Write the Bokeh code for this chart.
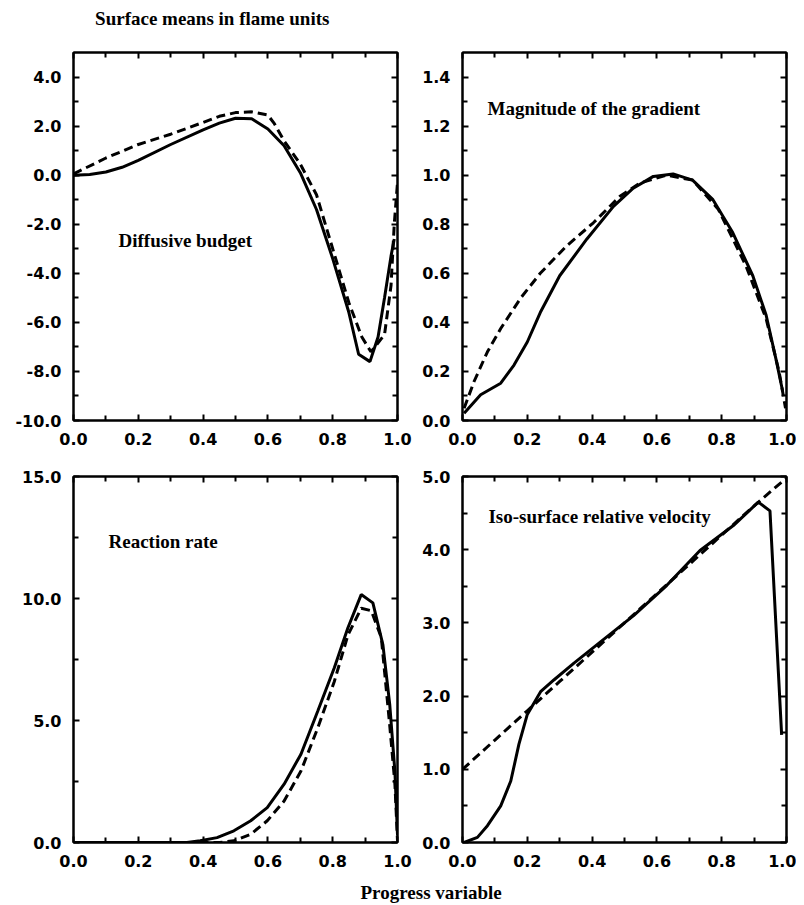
from bokeh.plotting import figure
from bokeh.models import Range1d, LinearAxis, FixedTicker, NumeralTickFormatter, Label
from bokeh.layouts import column, row
from bokeh.embed import file_html
from bokeh.resources import INLINE

# ---------------- data ----------------
x_ticks = [0.0, 0.2, 0.4, 0.6, 0.8, 1.0]
x_minor = [0.1, 0.3, 0.5, 0.7, 0.9]

# Diffusive budget
diff_x_solid = [0.0, 0.05, 0.1, 0.15, 0.2, 0.3, 0.4, 0.45, 0.5, 0.55, 0.6, 0.65, 0.7,
                0.75, 0.8, 0.85, 0.88, 0.915, 0.94, 0.96, 0.98, 0.99]
diff_y_solid = [0.0, 0.03, 0.13, 0.32, 0.6, 1.25, 1.85, 2.12, 2.32, 2.3, 1.88, 1.2, 0.1,
                -1.4, -3.4, -5.6, -7.3, -7.6, -6.6, -5.0, -3.3, -2.6]
diff_x_dash = [0.0, 0.1, 0.2, 0.3, 0.4, 0.45, 0.5, 0.55, 0.6, 0.62, 0.65, 0.7, 0.75, 0.8,
               0.85, 0.89, 0.918, 0.96, 0.98, 0.99, 1.0]
diff_y_dash = [0.05, 0.7, 1.25, 1.67, 2.15, 2.4, 2.55, 2.58, 2.45, 2.1, 1.4, 0.45, -0.8,
               -3.0, -5.2, -6.6, -7.2, -6.5, -4.5, -2.0, -0.3]
diff_y_ticks = [-10, -8, -6, -4, -2, 0, 2, 4]
diff_y_minor = [-9, -7, -5, -3, -1, 1, 3]

# Magnitude of the gradient
grad_x_solid = [0.005, 0.056, 0.118, 0.159, 0.2, 0.24, 0.3, 0.384, 0.466, 0.527, 0.589,
                0.65, 0.71, 0.773, 0.834, 0.896, 0.937, 0.967, 0.988]
grad_y_solid = [0.03, 0.105, 0.152, 0.226, 0.32, 0.44, 0.59, 0.74, 0.873, 0.947, 0.995,
                1.005, 0.98, 0.90, 0.766, 0.59, 0.43, 0.253, 0.12]
grad_x_dash = [0.005, 0.036, 0.077, 0.118, 0.18, 0.24, 0.32, 0.404, 0.486, 0.548, 0.63,
               0.71, 0.79, 0.875, 0.937, 0.977, 0.997]
grad_y_dash = [0.05, 0.16, 0.28, 0.375, 0.5, 0.60, 0.71, 0.806, 0.914, 0.968, 1.0,
               0.98, 0.86, 0.63, 0.415, 0.2, 0.05]
grad_y_ticks = [0.0, 0.2, 0.4, 0.6, 0.8, 1.0, 1.2, 1.4]
grad_y_minor = [0.1, 0.3, 0.5, 0.7, 0.9, 1.1, 1.3]

# Reaction rate
rate_x_solid = [0.0, 0.1, 0.2, 0.3, 0.35, 0.391, 0.443, 0.495, 0.547, 0.598, 0.65, 0.702,
                0.754, 0.805, 0.847, 0.888, 0.924, 0.955, 0.976, 0.992, 1.0]
rate_y_solid = [0.0, 0.0, 0.0, 0.0, 0.0, 0.07, 0.2, 0.48, 0.89, 1.43, 2.39, 3.62,
                5.39, 7.16, 8.8, 10.16, 9.82, 8.1, 5.66, 2.9, 0.3]
rate_x_dash = [0.0, 0.2, 0.4, 0.45, 0.495, 0.547, 0.598, 0.65, 0.702, 0.754, 0.805, 0.847,
               0.888, 0.919, 0.95, 0.976, 0.992, 1.0]
rate_y_dash = [0.0, 0.0, 0.0, 0.0, 0.07, 0.34, 0.89, 1.7, 2.93, 4.7, 6.6, 8.5,
               9.6, 9.5, 8.4, 4.8, 2.4, 0.07]
rate_y_ticks = [0.0, 5.0, 10.0, 15.0]
rate_y_minor = [2.5, 7.5, 12.5]

# Iso-surface relative velocity
vel_x_solid = [0.005, 0.046, 0.077, 0.118, 0.149, 0.174, 0.2, 0.241, 0.282, 0.344, 0.426,
               0.528, 0.63, 0.733, 0.836, 0.913, 0.949, 0.985]
vel_y_solid = [0.0, 0.07, 0.23, 0.5, 0.84, 1.34, 1.75, 2.06, 2.22, 2.45, 2.74,
               3.1, 3.51, 3.99, 4.33, 4.65, 4.53, 1.47]
vel_x_dash = [0.0, 0.1, 0.2, 0.3, 0.4, 0.5, 0.6, 0.7, 0.8, 0.9, 1.0]
vel_y_dash = [1.0, 1.4, 1.8, 2.2, 2.6, 3.0, 3.4, 3.8, 4.2, 4.6, 4.98]
vel_y_ticks = [0.0, 1.0, 2.0, 3.0, 4.0, 5.0]
vel_y_minor = [0.5, 1.5, 2.5, 3.5, 4.5]

TICK_FONT = "DejaVu Sans"
SERIF = "Liberation Serif"


def style_axis(ax, ticks, minor, show_labels, standoff=10):
    ax.ticker = FixedTicker(ticks=ticks, minor_ticks=minor)
    ax.formatter = NumeralTickFormatter(format="0.0")
    ax.axis_line_color = "black"
    ax.axis_line_width = 2
    ax.major_tick_in = 6
    ax.major_tick_out = 0
    ax.minor_tick_in = 5
    ax.minor_tick_out = 0
    ax.major_tick_line_width = 2
    ax.minor_tick_line_width = 2
    ax.major_tick_line_color = "black"
    ax.minor_tick_line_color = "black"
    ax.major_label_text_font = TICK_FONT
    ax.major_label_text_font_style = "bold"
    ax.major_label_text_font_size = "16px"
    ax.major_label_text_color = "black"
    if show_labels:
        ax.major_label_standoff = standoff
    else:
        ax.major_label_overrides = {t: "" for t in ticks}
        ax.major_label_standoff = 0


def panel(y0, y1, yt, ym, frame_h, left, right, top, bottom,
          xs, ys, xd, yd):
    p = figure(frame_width=324, frame_height=frame_h,
               x_range=Range1d(0, 1), y_range=Range1d(y0, y1),
               output_backend="svg", toolbar_location=None, tools="",
               min_border_left=left, min_border_right=right,
               min_border_top=top, min_border_bottom=bottom)
    p.grid.visible = False
    p.outline_line_color = "black"
    p.outline_line_width = 2
    p.background_fill_color = "white"
    p.border_fill_color = "white"
    style_axis(p.xaxis[0], x_ticks, x_minor, True, 12)
    style_axis(p.yaxis[0], yt, ym, True, 12)
    top_ax = LinearAxis()
    style_axis(top_ax, x_ticks, x_minor, False)
    p.add_layout(top_ax, "above")
    right_ax = LinearAxis()
    style_axis(right_ax, yt, ym, False)
    p.add_layout(right_ax, "right")
    p.line(xs, ys, line_color="black", line_width=3)
    p.line(xd, yd, line_color="black", line_width=3, line_dash="9 5")
    return p


def add_text(p, x, y, text, align="left"):
    p.add_layout(Label(x=x, y=y, text=text, text_font=SERIF, text_font_style="bold",
                       text_font_size="19px", text_color="black",
                       text_align=align, text_baseline="middle"))


def text_strip(height, x, y, text):
    f = figure(width=796, height=height, x_range=Range1d(0, 1), y_range=Range1d(0, 1),
               x_axis_type=None, y_axis_type=None, output_backend="svg",
               toolbar_location=None, tools="", min_border=0)
    f.grid.visible = False
    f.outline_line_color = None
    f.background_fill_color = "white"
    f.border_fill_color = "white"
    add_text(f, x, y, text, "center")
    return f


top_strip = text_strip(36, 0.266, 0.5, "Surface means in flame units")

tl = panel(-10, 5, diff_y_ticks, diff_y_minor, 368, 73, 20, 16, 36,
           diff_x_solid, diff_y_solid, diff_x_dash, diff_y_dash)
add_text(tl, 0.139, -2.66, "Diffusive budget")

tr = panel(0, 1.5, grad_y_ticks, grad_y_minor, 368, 45, 10, 16, 36,
           grad_x_solid, grad_y_solid, grad_x_dash, grad_y_dash)
add_text(tr, 0.077, 1.272, "Magnitude of the gradient")

bl = panel(0, 15, rate_y_ticks, rate_y_minor, 366, 73, 20, 20, 36,
           rate_x_solid, rate_y_solid, rate_x_dash, rate_y_dash)
add_text(bl, 0.108, 12.35, "Reaction rate")

br = panel(0, 5, vel_y_ticks, vel_y_minor, 366, 45, 10, 20, 36,
           vel_x_solid, vel_y_solid, vel_x_dash, vel_y_dash)
add_text(br, 0.08, 4.46, "Iso-surface relative velocity")

bottom_strip = text_strip(26, 0.541, 0.46, "Progress variable")

layout = column(top_strip, row(tl, tr), row(bl, br), bottom_strip)

open("out.html", "w").write(file_html(layout, INLINE))
